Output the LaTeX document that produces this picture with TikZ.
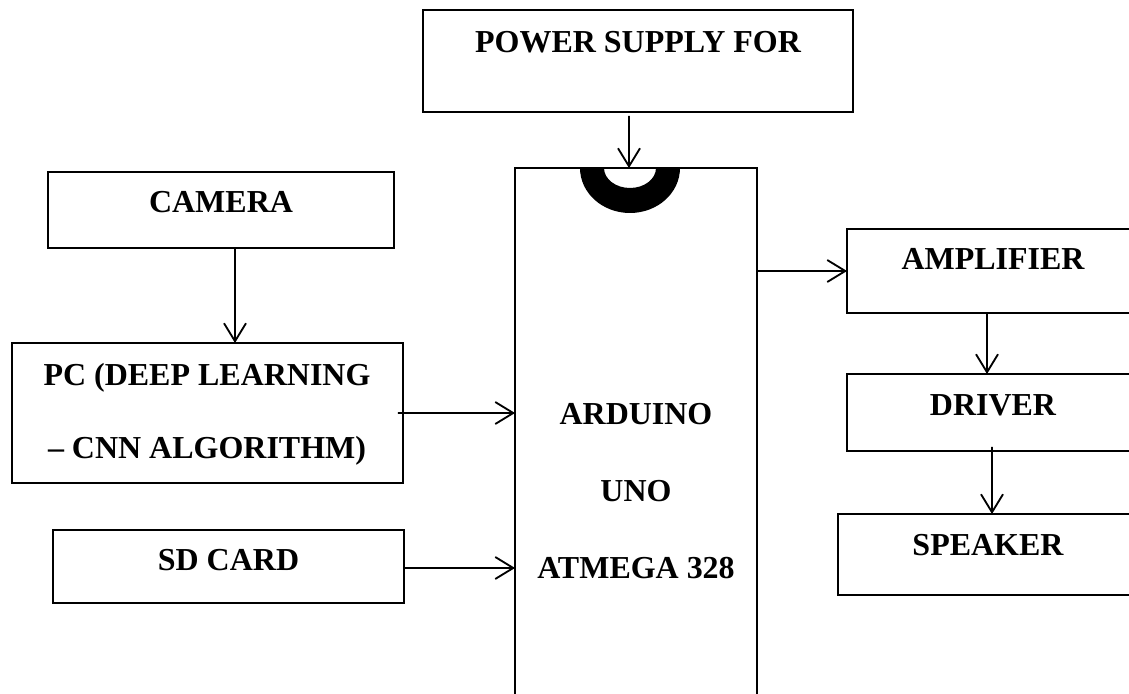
\documentclass[tikz,border=0pt]{standalone}
\usepackage{fontspec}
\setmainfont{Liberation Serif}
\usetikzlibrary{arrows.meta}

\begin{document}
\begin{tikzpicture}
        [x=0.02cm,y=-0.02cm,
         blk/.style={draw,line width=1.1pt,inner sep=0pt,outer sep=0pt},
         lbl/.style={anchor=base,inner sep=0pt,font=\fontsize{18.2}{20}\selectfont\bfseries},
         arr/.style={-{Straight Barb[length=0.36cm,width=0.44cm]},line width=1.05pt}]
        \useasboundingbox (0,0) rectangle (1129,693);
        %-----blocks
         \node[blk, minimum width=8.6cm, minimum height=2.04cm]  (pwr) at (638,61) {};
         \node[blk, minimum width=6.92cm, minimum height=1.52cm]  (cam) at (221,210) {};
         \node[blk, minimum width=7.82cm, minimum height=2.8cm]  (pc) at (207.5,413) {};
         \node[blk, minimum width=7.02cm, minimum height=1.46cm]  (sd) at (228.5,566.5) {};
         \node[blk, minimum width=4.84cm, minimum height=11.04cm]  (ard) at (636,444) {};
         \node[blk, minimum width=5.84cm, minimum height=1.68cm]  (amp) at (993,271) {};
         \node[blk, minimum width=5.84cm, minimum height=1.54cm]  (drv) at (993,412.5) {};
         \node[blk, minimum width=6cm, minimum height=1.62cm]  (spk) at (988,554.5) {};

         % notch of the chip
         \fill (580,168) arc (180:360:1cm and 0.9cm) -- (656,168)
               arc (0:-180:0.52cm and 0.4cm) -- cycle;

        %-----labels
         \node[lbl]  (t-pwr) at (638,52) {POWER SUPPLY FOR};
         \node[lbl]  (t-cam) at (221,212) {CAMERA};
         \node[lbl]  (t-pc1) at (207,385) {PC (DEEP LEARNING};
         \node[lbl]  (t-pc2) at (207,458) {-- CNN ALGORITHM)};
         \node[lbl]  (t-sd) at (228.5,570) {SD CARD};
         \node[lbl]  (t-ard) at (636,424) {ARDUINO};
         \node[lbl]  (t-uno) at (636,501) {UNO};
         \node[lbl]  (t-atm) at (636,578) {ATMEGA 328};
         \node[lbl]  (t-amp) at (993,269) {AMPLIFIER};
         \node[lbl]  (t-drv) at (993,415) {DRIVER};
         \node[lbl]  (t-spk) at (988,555) {SPEAKER};

        %-----arrows
         \draw[arr] ([xshift=-0.18cm,yshift=-0.08cm]pwr.south) -- ([xshift=-0.14cm]ard.north);
         \draw[arr] ([xshift=0.28cm]cam.south) -- ([xshift=0.55cm]pc.north);
         \draw[arr] ([xshift=-0.1cm]pc.east) -- ([yshift=0.62cm]ard.west);
         \draw[arr] ([yshift=-0.03cm]sd.east) -- ([yshift=-2.48cm]ard.west);
         \draw[arr] ([yshift=3.46cm]ard.east) -- (amp.west);
         \draw[arr] ([xshift=-0.12cm]amp.south) -- ([xshift=-0.12cm]drv.north);
         \draw[arr] ([xshift=-0.02cm,yshift=0.08cm]drv.south) -- ([xshift=0.08cm]spk.north);
        \end{tikzpicture}
\end{document}
